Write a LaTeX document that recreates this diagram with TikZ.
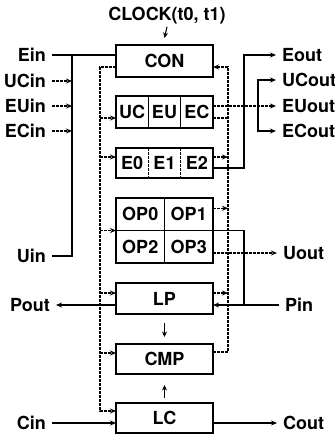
\documentclass[tikz,border=0pt]{standalone}
\usepackage{fontspec}
\setmainfont{TeX Gyre Heros}
\usetikzlibrary{arrows.meta,calc}
\begin{document}
\begin{tikzpicture}[x=1pt,y=-1pt,
  font=\fontsize{18}{20}\selectfont\bfseries,
  box/.style={draw,line width=1.1pt,minimum width=97pt,inner sep=0pt,outer sep=0pt},
  cell/.style={draw,line width=1.1pt,inner sep=0pt,outer sep=0pt},
  ecell/.style={inner sep=0pt,outer sep=0pt,minimum width=32.33pt,minimum height=30pt},
  lab/.style={inner sep=0pt,text height=13pt,text depth=0pt},
  sig/.style={line width=1.5pt},
  ctl/.style={line width=1.2pt,dash pattern=on 2.6pt off 1.4pt},
  tip/.style={-{Stealth[length=6pt,width=5pt]}},
  small/.style={line width=1.1pt,-{Stealth[length=5.5pt,width=5pt]}},
]
\useasboundingbox (0,0) rectangle (335,437);

% boxes
\node[box,minimum height=32pt] (CON) at (164.5,61) {CON};
\node[cell,minimum width=32.33pt,minimum height=32pt] (UC) at (132.17,112) {UC};
\node[cell,minimum width=32.33pt,minimum height=32pt] (EU) at (164.5,112) {EU};
\node[cell,minimum width=32.33pt,minimum height=32pt] (EC) at (196.83,112) {EC};
\node[box,minimum height=30pt] (EG) at (164.5,163) {};
\node[ecell] (E0) at (132.17,163) {E0};
\node[ecell] (E1) at (164.5,163) {E1};
\node[ecell] (E2) at (196.83,163) {E2};
\draw[ctl,line width=0.8pt] (E0.north east) -- (E0.south east);
\draw[ctl,line width=0.8pt] (E1.north east) -- (E1.south east);
\node[cell,minimum width=48.5pt,minimum height=32.5pt] (OP0) at (140.25,214.25) {OP0};
\node[cell,minimum width=48.5pt,minimum height=32.5pt] (OP1) at (188.75,214.25) {OP1};
\node[cell,minimum width=48.5pt,minimum height=32.5pt] (OP2) at (140.25,246.75) {OP2};
\node[cell,minimum width=48.5pt,minimum height=32.5pt] (OP3) at (188.75,246.75) {OP3};
\node[box,minimum height=31pt] (LP) at (164.5,298.5) {LP};
\node[box,minimum height=30pt] (CMP) at (164.5,359) {CMP};
\node[box,minimum height=30pt] (LC) at (164.5,418) {LC};

% labels
\node[lab] (CLK) at (167,14) {CLOCK(t0, t1)};
\node[lab,anchor=east] (Ein) at (46,55) {Ein};
\node[lab,anchor=east] (UCin) at (46,81) {UCin};
\node[lab,anchor=east] (EUin) at (46,106) {EUin};
\node[lab,anchor=east] (ECin) at (46,131) {ECin};
\node[lab,anchor=east] (Uin) at (46,256) {Uin};
\node[lab,anchor=east] (Pout) at (50,305) {Pout};
\node[lab,anchor=east] (Cin) at (46,423) {Cin};
\node[lab,anchor=west] (Eout) at (282,55) {Eout};
\node[lab,anchor=west] (UCout) at (282,80) {UCout};
\node[lab,anchor=west] (EUout) at (282,106) {EUout};
\node[lab,anchor=west] (ECout) at (282,131) {ECout};
\node[lab,anchor=west] (Uout) at (283,253) {Uout};
\node[lab,anchor=west] (Pin) at (285,305) {Pin};
\node[lab,anchor=west] (Cout) at (283,423) {Cout};

% bus x positions
\coordinate (J) at (72,0);
\coordinate (LB) at (100,0);
\coordinate (RB) at (228,0);
\coordinate (EX) at (244,0);
\coordinate (FX) at (258,0);

% small vertical arrows
\draw[small] ([yshift=-6pt]CLK.south) -- ([yshift=7pt]CON.north);
\draw[small] ([yshift=-9pt]LP.south) -- ([yshift=7pt]CMP.north);
\draw[small] ([yshift=5pt]LC.north) -- ([yshift=-11pt]CMP.south);

% left inputs
\draw[sig] ([xshift=6pt]Ein.east) -- (Ein -| CON.west);
\draw[sig] (Ein -| J) -- (Uin -| J) -- ([xshift=6pt]Uin.east);
\foreach \n in {UCin,EUin,ECin} \draw[ctl,tip] ([xshift=6pt]\n.east) -- (\n -| J);

% left control bus
\coordinate (conL) at ([yshift=-6pt]CON.west);
\coordinate (lcL) at ([yshift=7pt]LC.west);
\draw[ctl,tip] (conL) -| (LB |- lcL) -- (lcL);
\coordinate (UCl) at ([yshift=-6pt]UC.west);
\coordinate (E0l) at ([yshift=6pt]E0.west);
\coordinate (OPl) at (OP0.south west);
\coordinate (LPl) at ([yshift=5.5pt]LP.west);
\coordinate (CMPl) at ([yshift=6pt]CMP.west);
\foreach \c in {UCl,E0l,OPl,LPl,CMPl} \draw[ctl,tip] (LB |- \c) -- (\c);

% right status bus
\coordinate (conR) at ([yshift=-6pt]CON.east);
\coordinate (cmpR) at ([yshift=7pt]CMP.east);
\draw[ctl,tip] (cmpR) -| (RB |- conR) -- (conR);
\coordinate (ECr) at ([yshift=-6pt]EC.east);
\draw[ctl] (ECr) -- (ECr -| RB);
\coordinate (E2r) at ([yshift=6pt]E2.east);
\coordinate (OP1r) at ([yshift=6pt]OP1.east);
\coordinate (LPr) at ([yshift=5.5pt]LP.east);
\foreach \c in {E2r,OP1r,LPr} \draw[ctl,tip] (\c) -- (\c -| RB);

% outputs
\coordinate (E2o) at ([yshift=-5pt]E2.east);
\draw[sig,tip] (E2o) -| (EX |- Eout) -- ([xshift=-6pt]Eout.west);
\draw[ctl,tip] (EUout -| EC.east) -- ([xshift=-6pt]EUout.west);
\draw[sig,{Stealth[length=6pt,width=5pt]}-{Stealth[length=6pt,width=5pt]}]
  ([xshift=-6pt]UCout.west) -- (UCout -| FX) -- (ECout -| FX) -- ([xshift=-6pt]ECout.west);
\draw[ctl,tip] (Uout -| OP3.east) -- ([xshift=-6pt]Uout.west);
\draw[sig,tip] ([xshift=-6pt]Pin.west) -- (Pin -| LP.east);
\draw[sig] (OP1.south east) -| (EX |- Pin);
\draw[sig,tip] (Pout -| LP.west) -- ([xshift=6pt]Pout.east);
\draw[sig,tip] ([xshift=6pt]Cin.east) -- (Cin -| LC.west);
\draw[sig,tip] (Cout -| LC.east) -- ([xshift=-6pt]Cout.west);
\end{tikzpicture}
\end{document}
